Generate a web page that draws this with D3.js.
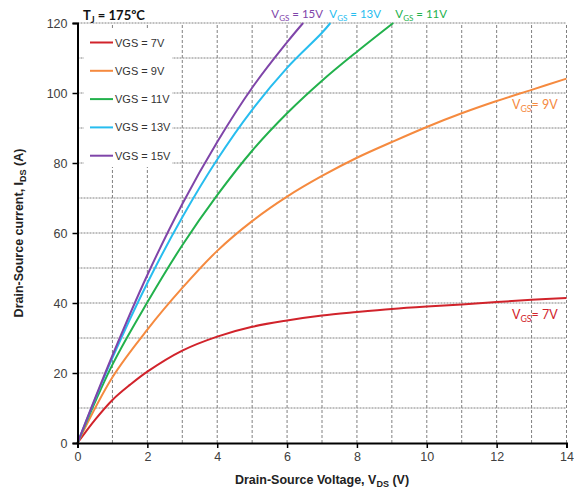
<!DOCTYPE html>
<html><head><meta charset="utf-8">
<script src="https://cdn.jsdelivr.net/npm/d3@7"></script>
<style>body{margin:0;background:#fff}svg{display:block}</style>
</head><body>
<script>
// ---- data ----
const seriesNames = ["VGS = 7V","VGS = 9V","VGS = 11V","VGS = 13V","VGS = 15V"];
const seriesColors = ["#d1232b","#f58a3f","#22b14c","#27bdef","#7f45a9"];
const vds7  = [0,0.5,1,1.5,2,3,4,5,6,7,8,9,10,11,12,13,14];
const ids7  = [0,6.6,12.3,16.6,20.4,26.4,30.4,33.2,35.0,36.4,37.4,38.3,39.0,39.6,40.3,40.9,41.4];
const vds9  = [0,1,2,3,4,5,6,7,8,9,10,11,12,13,14];
const ids9  = [0,18.8,32.4,44.3,54.9,63.4,70.4,76.3,81.5,86.0,90.3,94.2,97.7,100.9,104.1];
const vds11 = [0,1,2,3,4,5,6,7,8,9.04];
const ids11 = [0,22.4,40.2,56.5,70.8,83.5,94.2,103.5,111.8,120];
const vds13 = [0,1,2,3,4,5,6,7,7.24];
const ids13 = [0,24.3,45.7,64.5,81.0,95.2,107.2,117.2,120];
const vds15 = [0,1,2,3,4,5,6,6.46];
const ids15 = [0,25.0,48.0,68.3,86.0,101.5,114.5,120];
const xTicks = [0,2,4,6,8,10,12,14];
const yTicks = [0,20,40,60,80,100,120];
const xGrid = [1,2,3,4,5,6,7,8,9,10,11,12,13,14];
const yGrid = [10,20,30,40,50,60,70,80,90,100,110,120];
const curveLabels = [
  {s:0, main:"V", sub:"GS", rest:"= 7V", v:12.44, i:36.6, fs:12.5},
  {s:1, main:"V", sub:"GS", rest:"= 9V", v:12.44, i:96.6, fs:12.5},
  {s:2, main:"V", sub:"GS", rest:" = 11V", v:9.1, i:122.6, fs:11.5},
  {s:3, main:"V", sub:"GS", rest:" = 13V", v:7.21, i:122.6, fs:11.5},
  {s:4, main:"V", sub:"GS", rest:" = 15V", v:5.55, i:122.6, fs:11.5}
];

const series = [
  {vds:vds7, ids:ids7},{vds:vds9, ids:ids9},{vds:vds11, ids:ids11},
  {vds:vds13, ids:ids13},{vds:vds15, ids:ids15}
];

// ---- chart ----
const W=574,H=493;
const svg=d3.select("body").append("svg").attr("width",W).attr("height",H);
const x=d3.scaleLinear().domain([0,14]).range([77.5,566.5]);
const y=d3.scaleLinear().domain([0,120]).range([443,23]);

// grid
svg.append("g").selectAll("line").data(xGrid).join("line")
  .attr("x1",d=>x(d)).attr("x2",d=>x(d)).attr("y1",y(0)).attr("y2",y(120))
  .attr("stroke","#808080").attr("stroke-width",1).attr("stroke-dasharray","3,2");
svg.append("g").selectAll("line").data(yGrid).join("line")
  .attr("x1",x(0)).attr("x2",x(14)).attr("y1",d=>y(d)).attr("y2",d=>y(d))
  .attr("stroke","#808080").attr("stroke-width",1).attr("stroke-dasharray","2,1");

// legend background
svg.append("rect").attr("x",84).attr("y",29).attr("width",88).attr("height",138).attr("fill","#fff");

// curves
const line=d3.line().x(d=>x(d[0])).y(d=>y(d[1])).curve(d3.curveCatmullRom.alpha(0.5));
series.forEach((s,k)=>{
  const pts=s.vds.map((v,j)=>[v,s.ids[j]]);
  svg.append("path").attr("d",line(pts)).attr("fill","none")
    .attr("stroke",seriesColors[k]).attr("stroke-width",2);
});

// axes
const xAxis=svg.append("g").attr("transform",`translate(0,${y(0)})`)
  .call(d3.axisBottom(x).tickValues(xTicks).tickSize(5).tickPadding(4).tickFormat(d3.format("d")));
const yAxis=svg.append("g").attr("transform",`translate(${x(0)},0)`)
  .call(d3.axisLeft(y).tickValues(yTicks).tickSize(5).tickPadding(5).tickFormat(d3.format("d")));
[xAxis,yAxis].forEach(a=>{
  a.select(".domain").attr("stroke","#000").attr("stroke-width",2);
  a.selectAll(".tick line").attr("stroke","#000").attr("stroke-width",1.5);
  a.selectAll("text").attr("font-family","Liberation Sans, Arial, sans-serif")
   .attr("font-size",12.5).attr("fill","#404040");
});

// legend
const lg=svg.append("g");
seriesNames.forEach((n,k)=>{
  const yy=42.5+k*28.3;
  lg.append("line").attr("x1",90).attr("x2",113).attr("y1",yy).attr("y2",yy)
    .attr("stroke",seriesColors[k]).attr("stroke-width",2);
  lg.append("text").attr("x",115).attr("y",yy+4).text(n)
    .attr("font-family","Liberation Sans, Arial, sans-serif").attr("font-size",11).attr("fill","#333");
});

// curve labels
curveLabels.forEach(c=>{
  const t=svg.append("text").attr("x",x(c.v)).attr("y",y(c.i)+4)
    .attr("font-family","Lato, Carlito, sans-serif").attr("font-size",c.fs).attr("fill",seriesColors[c.s]);
  t.append("tspan").text(c.main);
  t.append("tspan").attr("font-size",c.fs*0.7).attr("dy",3).text(c.sub);
  t.append("tspan").attr("dy",-3).text(c.rest);
});

// title
const tt=svg.append("text").attr("x",83).attr("y",20).attr("font-family","Lato, sans-serif")
  .attr("font-weight","bold").attr("font-size",13).attr("fill","#111");
tt.append("tspan").text("T");
tt.append("tspan").attr("font-size",9).attr("dy",3).text("J");
tt.append("tspan").attr("dy",-3).text(" = 175ºC");

// axis titles
const xl=svg.append("text").attr("x",322).attr("y",484).attr("text-anchor","middle")
  .attr("font-family","Liberation Sans, Arial, sans-serif").attr("font-weight","bold").attr("font-size",12.5).attr("fill","#222");
xl.append("tspan").text("Drain-Source Voltage, V");
xl.append("tspan").attr("font-size",9).attr("dy",3).text("DS");
xl.append("tspan").attr("dy",-3).text(" (V)");

const yl=svg.append("text").attr("transform","translate(23,233) rotate(-90)").attr("text-anchor","middle")
  .attr("font-family","Liberation Sans, Arial, sans-serif").attr("font-weight","bold").attr("font-size",12.5).attr("fill","#222");
yl.append("tspan").text("Drain-Source current, I");
yl.append("tspan").attr("font-size",9).attr("dy",3).text("DS");
yl.append("tspan").attr("dy",-3).text(" (A)");
</script>
</body></html>
